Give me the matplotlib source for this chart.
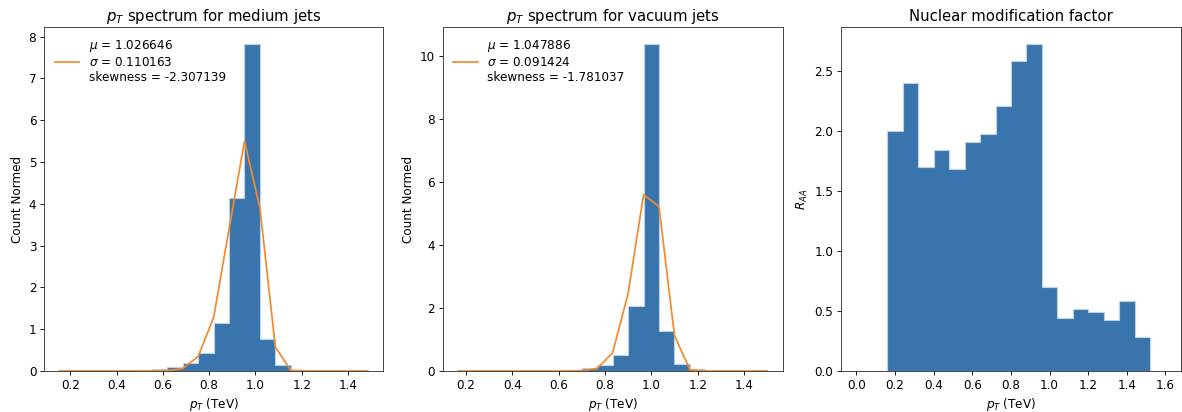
import numpy as np
import matplotlib
matplotlib.use("Agg")
import matplotlib.pyplot as plt

# medium jets: 20 bins, normalised counts, plus fitted curve at the bin edges
med_edges = np.linspace(0.153, 1.486, 21)
med_counts = [0, 0, 0, 0, 0, 0.015, 0.05, 0.096, 0.19, 0.432,
              1.16, 4.136, 7.83, 0.776, 0.136, 0.03, 0, 0, 0, 0]
med_fit = [0, 0, 0, 0, 0, 0, 0, 0.01, 0.06, 0.35,
           1.28, 3.4, 5.5, 3.9, 0.576, 0.016, 0, 0, 0, 0, 0]
med_label = "$\\mu$ = 1.026646\n$\\sigma$ = 0.110163\nskewness = -2.307139"

# vacuum jets
vac_edges = np.linspace(0.167, 1.499, 21)
vac_counts = [0, 0, 0, 0, 0, 0, 0, 0.03, 0.085, 0.20,
              0.52, 2.055, 10.4, 1.27, 0.233, 0.06, 0, 0, 0, 0]
vac_fit = [0, 0, 0, 0, 0, 0, 0, 0, 0.01, 0.085,
           0.58, 2.46, 5.6, 5.23, 1.13, 0.04, 0, 0, 0, 0, 0]
vac_label = "$\\mu$ = 1.047886\n$\\sigma$ = 0.091424\nskewness = -1.781037"

# nuclear modification factor R_AA
raa_edges = np.linspace(0.0, 1.6, 21)
raa_vals = [0, 0, 2.00, 2.40, 1.696, 1.843, 1.682, 1.904, 1.976, 2.203,
            2.58, 2.724, 0.701, 0.441, 0.516, 0.494, 0.424, 0.582, 0.283, 0]

bar_color = "#3a74ad"
edge_color = "#bcd2e8"
line_color = "#f28a30"

plt.rcParams["font.size"] = 11

fig = plt.figure(figsize=(15, 412 / 78.8), dpi=78.8)
ax1 = fig.add_axes([0.0372, 0.0995, 0.2871, 0.8342])
ax2 = fig.add_axes([0.3745, 0.0995, 0.2876, 0.8342])
ax3 = fig.add_axes([0.7115, 0.0995, 0.2876, 0.8342])


def spectrum(ax, edges, counts, fit, label, title):
    centers = (edges[:-1] + edges[1:]) / 2
    ax.hist(centers, bins=edges, weights=counts, histtype="stepfilled",
            facecolor=bar_color, edgecolor=edge_color, linewidth=1)
    ax.plot(edges, fit, color=line_color, lw=1.6, label=label)
    ax.set_title(title, fontsize=13.6)
    ax.set_xlabel("$p_T$ (TeV)")
    ax.set_ylabel("Count Normed")
    ax.legend(loc="upper left", frameon=False, fontsize=11)


spectrum(ax1, med_edges, med_counts, med_fit, med_label,
         "$p_T$ spectrum for medium jets")
spectrum(ax2, vac_edges, vac_counts, vac_fit, vac_label,
         "$p_T$ spectrum for vacuum jets")
ax1.set_xticks([0.2, 0.4, 0.6, 0.8, 1.0, 1.2, 1.4])
ax2.set_xticks([0.2, 0.4, 0.6, 0.8, 1.0, 1.2, 1.4])

raa_centers = (raa_edges[:-1] + raa_edges[1:]) / 2
ax3.hist(raa_centers, bins=raa_edges, weights=raa_vals, histtype="stepfilled",
         facecolor=bar_color, edgecolor=edge_color, linewidth=1)
ax3.set_title("Nuclear modification factor", fontsize=13.6)
ax3.set_xlabel("$p_T$ (TeV)")
ax3.set_ylabel("$R_{AA}$")

for ax in (ax1, ax2, ax3):
    for s in ax.spines.values():
        s.set_color("#333333")

fig.savefig("out.png", dpi=78.8)
